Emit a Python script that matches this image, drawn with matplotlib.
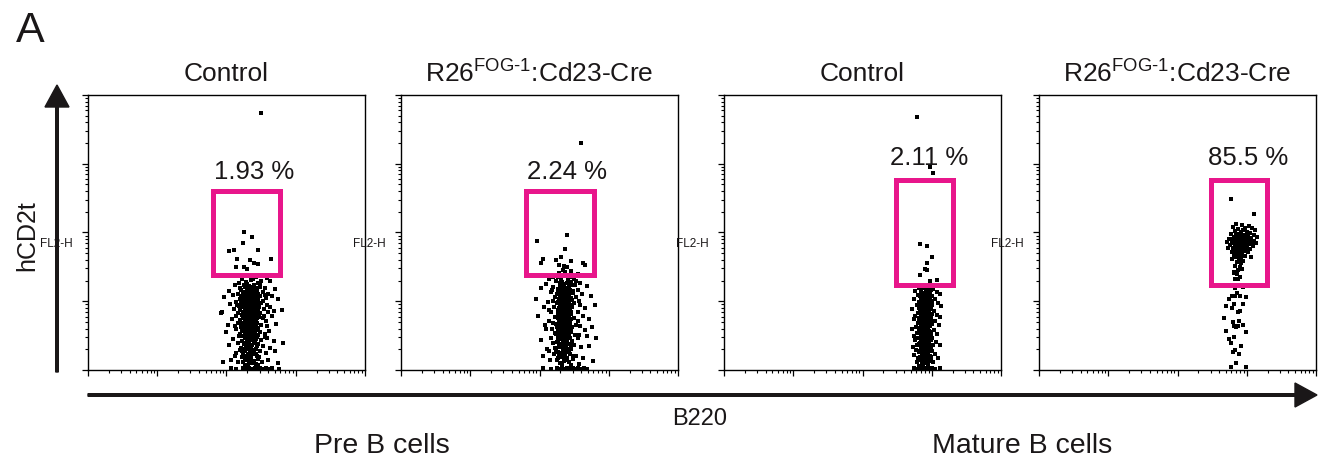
import matplotlib.pyplot as plt
import numpy as np
from matplotlib.patches import Rectangle
from matplotlib.ticker import NullFormatter

plt.rcParams['font.family'] = ['Liberation Sans', 'DejaVu Sans']
plt.rcParams['mathtext.fontset'] = 'custom'
plt.rcParams['mathtext.rm'] = 'Liberation Sans'

# events, in decades (log10 of FL1 / FL2)
pre_ctrl_pts = [
    (2.31,1.38),(2.42,1.36),(2.22,1.33),(2.36,1.31),(2.50,1.30),(2.58,1.34),(2.28,1.28),(2.45,1.27),(2.63,1.29),(2.18,1.26),
    (2.12,1.24),(2.25,1.23),(2.33,1.22),(2.40,1.24),(2.48,1.21),(2.55,1.20),(2.30,1.19),(2.37,1.18),(2.21,1.17),(2.44,1.16),
    (2.70,1.18),(2.03,1.15),(2.29,1.14),(2.35,1.13),(2.41,1.12),(2.52,1.14),(2.60,1.11),(2.17,1.11),(2.26,1.10),(2.33,1.10),
    (2.09,1.09),(2.22,1.08),(2.30,1.07),(2.36,1.08),(2.43,1.06),(2.49,1.07),(2.57,1.05),(2.66,1.08),(2.27,1.04),(2.34,1.03),
    (2.39,1.05),(2.19,1.03),(2.46,1.02),(2.31,1.01),(2.24,1.00),(2.37,1.00),(2.53,1.01),(1.97,1.06),(2.75,1.03),(2.28,1.06),
    (2.14,0.99),(2.21,0.97),(2.29,0.98),(2.33,0.96),(2.38,0.97),(2.42,0.95),(2.50,0.98),(2.26,0.94),(2.35,0.93),(2.31,0.92),
    (2.40,0.91),(2.47,0.92),(2.18,0.93),(2.58,0.95),(2.63,0.91),(2.27,0.90),(2.34,0.90),(2.05,0.96),(2.23,0.91),(2.37,0.94),
    (2.11,0.89),(2.20,0.88),(2.28,0.87),(2.32,0.86),(2.36,0.88),(2.41,0.85),(2.45,0.87),(2.54,0.89),(2.25,0.84),(2.30,0.83),
    (2.38,0.82),(2.43,0.81),(2.16,0.83),(2.60,0.84),(2.69,0.86),(1.93,0.85),(2.34,0.80),(2.27,0.81),(2.49,0.83),(2.22,0.80),
    (2.13,0.79),(2.24,0.78),(2.31,0.77),(2.36,0.78),(2.40,0.76),(2.47,0.77),(2.29,0.75),(2.33,0.74),(2.20,0.73),(2.43,0.73),
    (2.52,0.75),(2.57,0.71),(2.27,0.72),(2.35,0.71),(2.08,0.74),(2.65,0.78),(2.39,0.70),(2.31,0.70),
    (2.17,0.69),(2.25,0.68),(2.32,0.67),(2.37,0.66),(2.44,0.68),(2.50,0.65),(2.28,0.64),(2.34,0.63),(2.21,0.62),(2.41,0.62),
    (2.58,0.64),(2.02,0.66),(2.30,0.61),(2.71,0.67),(2.26,0.60),
    (2.14,0.59),(2.23,0.58),(2.30,0.57),(2.35,0.56),(2.42,0.58),(2.48,0.55),(2.27,0.54),(2.33,0.53),(2.39,0.52),(2.19,0.52),
    (2.55,0.53),(2.62,0.57),(1.99,0.55),(2.31,0.50),(2.45,0.51),
    (2.18,0.49),(2.26,0.48),(2.33,0.47),(2.38,0.46),(2.44,0.48),(2.29,0.44),(2.36,0.43),(2.22,0.42),(2.50,0.44),(2.59,0.46),
    (2.10,0.45),(2.32,0.41),(2.41,0.40),(2.68,0.42),
    (2.16,0.39),(2.25,0.38),(2.31,0.37),(2.37,0.36),(2.46,0.38),(2.28,0.34),(2.35,0.33),(2.21,0.32),(2.42,0.31),(2.53,0.35),
    (2.04,0.36),(2.63,0.32),(2.30,0.30),
    (2.19,0.29),(2.27,0.28),(2.34,0.27),(2.40,0.26),(2.49,0.28),(2.31,0.24),(2.37,0.23),(2.24,0.22),(2.57,0.25),(2.12,0.21),
    (2.44,0.21),(2.70,0.27),
    (2.22,0.19),(2.30,0.18),(2.36,0.17),(2.45,0.16),(2.28,0.14),(2.39,0.13),(2.17,0.12),(2.51,0.12),(2.33,0.11),(2.60,0.15),
    (2.42,0.09),(2.26,0.08),(2.74,0.10),(2.07,0.14),
    (2.06,0.03),(2.13,0.02),(2.24,0.03),(2.28,0.02),(2.32,0.03),(2.38,0.02),(2.41,0.03),(2.45,0.02),(2.49,0.03),(2.53,0.02),
    (2.57,0.03),(2.61,0.02),(2.66,0.03),(2.76,0.02),(1.92,0.83),(1.95,0.12),(2.80,0.88),(2.82,0.40),
    (2.26,1.21),(2.32,1.20),(2.38,1.21),(2.43,1.19),(2.29,1.16),(2.35,1.16),(2.40,1.15),(2.24,1.13),(2.31,1.12),(2.38,1.12),
    (2.46,1.10),(2.28,1.09),(2.34,1.08),(2.40,1.09),(2.21,1.06),(2.33,1.05),(2.36,1.04),(2.42,1.03),(2.29,1.02),(2.27,0.99),
    (2.34,0.98),(2.40,0.99),(2.45,0.97),(2.30,0.96),(2.36,0.95),(2.25,0.97),(2.28,0.93),(2.33,0.92),(2.39,0.93),(2.44,0.90),
    (2.30,0.89),(2.36,0.86),(2.41,0.88),(2.26,0.86),(2.34,0.84),(2.39,0.85),(2.29,0.82),(2.45,0.84),(2.32,0.80),(2.37,0.81),
    (2.24,0.81),(2.42,0.79),(2.28,0.78),(2.34,0.77),(2.38,0.75),(2.30,0.74),(2.25,0.75),(2.44,0.75),(2.35,0.73),(2.40,0.72),
    (2.27,0.70),(2.33,0.69),(2.38,0.68),(2.23,0.67),(2.30,0.66),(2.42,0.65),(2.35,0.64),(2.27,0.62),(2.38,0.60),(2.32,0.59),
    (2.45,0.61),(2.25,0.57),(2.37,0.55),(2.29,0.53),(2.41,0.54),(2.34,0.51),(2.23,0.50),(2.39,0.49),(2.31,0.47),(2.28,0.46),
    (2.42,0.45),(2.35,0.45),(2.26,0.40),(2.33,0.39),(2.39,0.41),(2.30,0.36),(2.44,0.35),(2.36,0.34),(2.27,0.31),(2.33,0.31),
    (2.40,0.29),(2.22,0.27),(2.36,0.25),(2.30,0.21),(2.42,0.24),(2.27,0.17),(2.34,0.15),(2.47,0.19),(2.24,0.11),(2.37,0.10),
    (2.31,0.06),(2.45,0.07),(2.14,0.25),(2.55,0.48),(2.12,0.64),(2.54,0.79),(2.15,0.94),(2.56,1.09),(2.19,1.19),(2.48,1.26),
    (2.38,1.32),(2.30,1.25),
    (2.25,2.01),(2.37,1.93),(2.24,1.85),(2.04,1.73),(2.11,1.75),(2.45,1.75),(2.15,1.61),(2.34,1.60),(2.64,1.61),(2.40,1.56),
    (2.45,1.54),(2.14,1.50),(2.25,1.50),(2.30,1.47),(2.50,3.74),
]

pre_fog_pts = [
    (2.34,1.46),(2.45,1.44),(2.28,1.41),(2.55,1.40),(2.38,1.38),(2.20,1.36),(2.47,1.35),(2.62,1.37),(2.31,1.33),(2.41,1.31),
    (2.14,1.32),(2.53,1.30),
    (2.24,1.29),(2.33,1.28),(2.39,1.27),(2.46,1.28),(2.58,1.26),(2.10,1.25),(2.29,1.24),(2.36,1.23),(2.43,1.22),(2.51,1.24),
    (2.68,1.22),(2.19,1.21),(2.32,1.19),(2.38,1.18),(2.27,1.17),(2.44,1.16),(2.02,1.19),(2.56,1.17),(2.35,1.15),
    (2.16,1.14),(2.26,1.13),(2.33,1.12),(2.37,1.13),(2.42,1.11),(2.49,1.12),(2.61,1.10),(2.30,1.09),(2.35,1.08),(2.39,1.07),
    (2.23,1.06),(2.45,1.05),(2.31,1.04),(2.36,1.03),(2.53,1.06),(2.74,1.08),(1.95,1.04),(2.28,1.02),(2.41,1.01),(2.19,1.00),
    (2.34,1.00),
    (2.12,0.99),(2.25,0.98),(2.32,0.97),(2.37,0.98),(2.43,0.96),(2.50,0.97),(2.29,0.95),(2.35,0.94),(2.40,0.93),(2.21,0.92),
    (2.47,0.91),(2.58,0.94),(2.66,0.90),(2.33,0.90),(2.38,0.89),(2.27,0.88),(2.07,0.92),(2.44,0.87),(2.31,0.86),(2.80,0.95),
    (2.17,0.84),(2.26,0.83),(2.34,0.82),(2.39,0.83),(2.46,0.81),(2.55,0.84),(2.30,0.80),(2.36,0.79),(2.41,0.78),(2.23,0.77),
    (2.50,0.76),(2.63,0.79),(2.32,0.75),(2.37,0.74),(1.98,0.78),(2.28,0.73),(2.44,0.72),(2.71,0.74),(2.14,0.71),(2.35,0.70),
    (2.20,0.69),(2.29,0.68),(2.36,0.67),(2.42,0.68),(2.52,0.66),(2.33,0.65),(2.38,0.64),(2.25,0.63),(2.47,0.62),(2.59,0.64),
    (2.08,0.65),(2.31,0.61),(2.40,0.60),(2.76,0.62),(2.18,0.59),(2.34,0.57),(2.45,0.56),(2.65,0.58),
    (2.22,0.54),(2.30,0.53),(2.37,0.52),(2.43,0.53),(2.51,0.51),(2.27,0.50),(2.35,0.49),(2.41,0.48),(2.16,0.47),(2.56,0.46),
    (2.32,0.45),(2.69,0.49),(2.02,0.44),(2.39,0.43),(2.47,0.42),(2.25,0.41),(2.82,0.47),
    (2.19,0.39),(2.28,0.38),(2.35,0.37),(2.42,0.38),(2.50,0.36),(2.31,0.35),(2.38,0.34),(2.23,0.32),(2.46,0.31),(2.60,0.33),
    (2.11,0.30),(2.34,0.29),(2.72,0.35),(2.41,0.27),(2.27,0.26),
    (2.21,0.24),(2.30,0.23),(2.37,0.22),(2.44,0.23),(2.53,0.21),(2.33,0.19),(2.40,0.18),(2.26,0.17),(2.48,0.16),(2.63,0.18),
    (2.15,0.14),(2.36,0.13),(2.43,0.11),(2.29,0.10),(2.57,0.09),(2.77,0.13),(2.05,0.20),
    (2.05,0.03),(2.16,0.02),(2.25,0.03),(2.29,0.02),(2.33,0.03),(2.36,0.02),(2.40,0.03),(2.44,0.02),(2.48,0.03),(2.52,0.02),
    (2.56,0.03),(2.60,0.02),(2.64,0.03),(2.68,0.02),
    (2.30,1.26),(2.36,1.25),(2.42,1.26),(2.47,1.23),(2.31,1.21),(2.37,1.20),(2.41,1.19),(2.26,1.18),(2.34,1.17),(2.40,1.16),
    (2.48,1.15),(2.30,1.14),(2.36,1.11),(2.44,1.13),(2.25,1.10),(2.33,1.09),(2.38,1.10),(2.43,1.08),(2.31,1.06),(2.28,1.03),
    (2.37,1.05),(2.42,1.03),(2.47,1.02),(2.33,1.01),(2.38,1.00),(2.26,0.99),(2.30,0.98),(2.35,0.96),(2.41,0.98),(2.45,0.94),
    (2.32,0.93),(2.37,0.92),(2.42,0.91),(2.28,0.90),(2.35,0.87),(2.40,0.86),(2.31,0.84),(2.46,0.85),(2.33,0.83),(2.38,0.81),
    (2.27,0.81),(2.43,0.80),(2.30,0.78),(2.35,0.77),(2.39,0.76),(2.32,0.73),(2.26,0.75),(2.45,0.74),(2.36,0.72),(2.41,0.71),
    (2.29,0.70),(2.34,0.69),(2.39,0.70),(2.24,0.67),(2.31,0.66),(2.44,0.66),(2.36,0.63),(2.28,0.62),(2.39,0.62),(2.33,0.60),
    (2.46,0.60),(2.26,0.58),(2.38,0.57),(2.30,0.55),(2.42,0.55),(2.35,0.54),(2.24,0.52),(2.40,0.50),(2.32,0.48),(2.29,0.47),
    (2.44,0.46),(2.36,0.46),(2.27,0.43),(2.34,0.41),(2.40,0.40),(2.31,0.38),(2.45,0.36),(2.37,0.35),(2.28,0.33),(2.34,0.32),
    (2.41,0.30),(2.24,0.29),(2.37,0.27),(2.31,0.25),(2.43,0.26),(2.28,0.20),(2.35,0.20),(2.48,0.21),(2.25,0.14),(2.38,0.15),
    (2.32,0.07),(2.46,0.08),(2.13,0.27),(2.57,0.51),(2.10,0.60),(2.56,0.72),(2.13,0.88),(2.57,1.01),(2.18,1.16),(2.50,1.33),
    (2.37,1.42),(2.26,1.35),
    (1.96,1.88),(2.40,1.97),(2.37,1.76),(2.31,1.64),(2.05,1.61),(2.02,1.56),(2.24,1.60),(2.28,1.53),(2.36,1.52),(2.40,1.50),
    (2.63,1.56),(2.66,1.53),(2.46,1.58),(2.60,3.30),
]

mat_ctrl_pts = [
    (2.88,1.22),(2.95,1.21),(2.82,1.19),(3.02,1.18),(2.91,1.17),(2.76,1.15),(2.97,1.14),(3.08,1.13),(2.86,1.12),(2.93,1.11),
    (2.80,1.09),(3.00,1.08),(2.89,1.07),(2.95,1.06),(3.12,1.10),(2.84,1.05),
    (2.74,1.04),(2.90,1.03),(2.97,1.02),(3.04,1.03),(2.86,1.01),(2.93,1.00),(2.81,0.99),(3.00,0.98),(2.88,0.97),(2.95,0.96),
    (3.09,0.97),(2.78,0.95),(2.91,0.94),(2.84,0.93),(2.98,0.92),(3.14,0.93),(2.89,0.91),(2.94,0.90),
    (2.72,0.89),(2.83,0.88),(2.90,0.87),(2.96,0.88),(3.03,0.86),(2.87,0.85),(2.93,0.84),(2.80,0.83),(3.00,0.82),(2.91,0.81),
    (2.85,0.80),(2.97,0.79),(3.07,0.80),(2.76,0.78),(2.89,0.77),(2.94,0.76),(3.12,0.77),(2.82,0.75),
    (2.74,0.74),(2.86,0.73),(2.92,0.72),(2.99,0.73),(3.05,0.71),(2.89,0.70),(2.95,0.69),(2.80,0.68),(3.01,0.67),(2.91,0.66),
    (2.84,0.65),(2.97,0.64),(3.10,0.66),(2.77,0.63),(2.88,0.62),(2.93,0.61),(2.71,0.60),
    (2.82,0.59),(2.90,0.58),(2.96,0.57),(3.03,0.58),(2.86,0.56),(2.92,0.55),(2.78,0.54),(2.99,0.53),(2.88,0.52),(2.94,0.51),
    (3.08,0.52),(2.74,0.50),(2.84,0.49),(2.91,0.48),(3.01,0.47),(2.80,0.46),(2.96,0.45),
    (2.76,0.44),(2.87,0.43),(2.93,0.42),(2.99,0.43),(3.06,0.41),(2.83,0.40),(2.90,0.39),(2.96,0.38),(2.79,0.37),(3.02,0.36),
    (2.88,0.35),(2.94,0.34),(3.12,0.36),(2.73,0.33),(2.85,0.32),(2.91,0.31),(2.98,0.30),
    (2.77,0.29),(2.86,0.28),(2.92,0.27),(3.00,0.28),(2.82,0.26),(2.89,0.25),(2.95,0.24),(3.05,0.23),(2.74,0.22),(2.87,0.21),
    (2.93,0.20),(2.99,0.19),(2.80,0.18),(3.09,0.17),(2.90,0.16),(2.84,0.14),(2.96,0.13),(2.78,0.12),(3.02,0.11),(2.91,0.10),
    (2.74,0.03),(2.79,0.02),(2.83,0.03),(2.86,0.02),(2.89,0.03),(2.92,0.02),(2.95,0.03),(2.98,0.02),(3.01,0.03),(3.05,0.02),
    (3.12,0.03),
    (2.87,1.20),(2.93,1.19),(2.99,1.16),(2.85,1.15),(2.91,1.14),(2.96,1.12),(2.88,1.10),(2.94,1.09),(2.83,1.08),(2.91,1.05),
    (2.97,1.05),(2.87,1.03),(2.93,1.02),(2.99,1.00),(2.84,0.98),(2.90,0.98),(2.96,0.97),(2.86,0.95),(2.92,0.93),(3.01,0.94),
    (2.88,0.92),(2.95,0.91),(2.82,0.90),(2.91,0.89),(2.99,0.89),(2.86,0.87),(2.93,0.86),(2.89,0.84),(2.96,0.83),(2.84,0.82),
    (2.92,0.80),(2.88,0.79),(2.99,0.78),(2.85,0.77),(2.91,0.75),(2.96,0.74),(2.82,0.72),(2.89,0.72),(2.94,0.70),(2.86,0.69),
    (2.91,0.68),(2.98,0.66),(2.84,0.66),(2.89,0.64),(2.95,0.63),(2.82,0.61),(2.91,0.60),(2.87,0.58),(2.94,0.59),(2.99,0.55),
    (2.84,0.54),(2.90,0.53),(2.96,0.52),(2.86,0.50),(2.93,0.49),(2.81,0.47),(2.88,0.46),(2.98,0.44),(2.85,0.41),(2.91,0.41),
    (2.95,0.40),(2.82,0.38),(2.88,0.37),(2.93,0.36),(2.99,0.33),(2.86,0.33),(2.91,0.29),(2.96,0.28),(2.83,0.28),(2.89,0.27),
    (2.94,0.25),(2.86,0.23),(2.91,0.22),(2.97,0.21),(2.83,0.19),(2.88,0.18),(2.94,0.17),(2.86,0.12),(2.91,0.13),(2.99,0.14),
    (2.88,0.07),(2.95,0.08),(2.82,0.06),
    (2.83,1.83),(2.93,1.80),(3.00,1.64),(2.93,1.56),(2.90,1.47),(2.93,1.45),(2.83,1.38),(3.07,1.31),(2.97,1.29),
    (2.97,2.95),(3.02,2.87),(2.79,3.68),
]

mat_fog_pts = [
    (2.85,2.13),(2.93,2.11),(3.03,2.10),(2.80,2.08),(2.98,2.07),(3.08,2.06),(2.88,2.05),(2.95,2.04),(3.12,2.03),(2.83,2.02),
    (2.91,2.01),(3.00,2.00),(3.05,1.99),(2.77,1.98),(2.87,1.98),(2.94,1.97),(3.10,1.97),(2.84,1.96),(2.97,1.95),(3.02,1.94),
    (2.90,1.94),(3.15,1.93),(2.81,1.93),(2.93,1.92),(3.06,1.92),(2.86,1.91),(2.99,1.90),(2.74,1.90),(2.89,1.89),(2.95,1.89),
    (3.03,1.88),(3.11,1.88),(2.82,1.88),(2.92,1.87),(2.86,1.86),(2.97,1.86),(3.07,1.86),(2.71,1.86),(2.90,1.85),(3.01,1.85),
    (2.79,1.85),(2.94,1.84),(2.84,1.83),(3.04,1.83),(3.13,1.84),(2.88,1.82),(2.98,1.82),(2.76,1.82),(2.92,1.81),(2.83,1.80),
    (3.01,1.80),(2.95,1.79),(3.09,1.80),(2.87,1.79),(2.80,1.78),(2.91,1.77),(2.99,1.77),(2.73,1.77),(2.85,1.76),(3.05,1.76),
    (2.94,1.75),(2.89,1.74),(2.82,1.73),(2.97,1.73),(2.78,1.72),(2.91,1.71),(3.02,1.71),(2.86,1.70),(2.93,1.69),(2.81,1.68),
    (2.88,1.66),(2.97,1.66),(2.84,1.64),(2.92,1.63),(3.06,1.64),(2.79,1.62),(2.89,1.60),(2.95,1.59),(2.86,1.57),(2.92,1.55),
    (2.83,1.52),(2.90,1.50),(2.87,1.45),(2.82,1.42),(2.93,1.47),
    (2.90,1.90),(2.93,1.95),(2.87,1.93),(2.96,1.91),(2.91,1.83),(2.88,1.86),(2.95,1.87),(2.99,1.94),(2.85,1.89),(2.93,1.78),
    (3.01,1.97),(2.89,1.97),(2.83,1.85),(2.97,1.80),(2.92,1.99),(3.04,1.90),(2.80,1.91),(2.86,1.81),(2.94,1.92),(2.90,1.80),
    (2.77,2.49),(3.10,2.27),
    (2.82,1.41),(2.86,1.40),(2.90,1.35),(2.83,1.32),(2.87,1.32),
    (2.83,1.19),(2.95,1.21),(2.86,1.12),(2.79,1.08),(2.83,1.07),(2.90,1.07),(2.74,1.03),(2.99,1.06),(2.82,0.96),(2.95,0.96),
    (2.70,0.93),(2.79,0.90),(2.90,0.86),(2.88,0.84),(2.67,0.76),(2.80,0.70),(2.89,0.71),(2.95,0.65),(2.81,0.64),(2.84,0.62),
    (2.87,0.64),(2.70,0.57),(2.99,0.55),(2.82,0.48),(2.74,0.45),(2.77,0.39),(2.92,0.35),(2.83,0.29),(2.80,0.26),(2.89,0.24),
    (2.84,0.10),(2.77,0.04),(2.99,0.04),
]

titles = ['Control', r'R26$^{\text{FOG-1}}$:Cd23-Cre', 'Control', r'R26$^{\text{FOG-1}}$:Cd23-Cre']
percents = ['1.93 %', '2.24 %', '2.11 %', '85.5 %']
# label anchor (decades) and gate (x0, x1, y0, y1 in decades)
pct_pos = [(2.40, 2.78), (2.40, 2.78), (2.96, 2.98), (3.02, 2.98)]
gates = [(1.81, 2.77, 1.38, 2.60), (1.81, 2.78, 1.38, 2.60),
         (2.49, 3.30, 1.24, 2.77), (2.48, 3.29, 1.24, 2.77)]
panels = [pre_ctrl_pts, pre_fog_pts, mat_ctrl_pts, mat_fog_pts]

W, H = 1319, 465
fig = plt.figure(figsize=(W / 100, H / 100), dpi=100)

# overlay in pixel units for arrows and figure labels
ov = fig.add_axes([0, 0, 1, 1])
ov.set_xlim(0, W)
ov.set_ylim(H, 0)
ov.axis('off')
ink = '#1a1718'
ov.arrow(57, 372, 0, -287, width=2.6, head_width=24, head_length=22,
         length_includes_head=True, color=ink)
ov.arrow(88, 395, 1229, 0, width=2.6, head_width=24, head_length=22,
         length_includes_head=True, color=ink)
ov.text(16, 42, 'A', fontsize=31, color=ink, va='baseline')
ov.text(27, 236, 'hCD2t', fontsize=18, rotation=90, ha='center', va='center', color=ink)
ov.text(700, 419, 'B220', fontsize=17, ha='center', va='center', color=ink)
ov.text(382, 446, 'Pre B cells', fontsize=20.5, ha='center', va='center', color=ink)
ov.text(1022, 446, 'Mature B cells', fontsize=20.5, ha='center', va='center', color=ink)

lefts = [88, 401, 724, 1039]
for i, left in enumerate(lefts):
    ax = fig.add_axes([left / W, (H - 370) / H, 277 / W, 275 / H])
    pts = np.array(panels[i])
    ax.scatter(10 ** pts[:, 0], 10 ** pts[:, 1], s=5, marker='s', c='black', linewidths=0)
    ax.set_xscale('log')
    ax.set_yscale('log')
    ax.set_xlim(1, 1e4)
    ax.set_ylim(1, 1e4)
    for axis in (ax.xaxis, ax.yaxis):
        axis.set_major_formatter(NullFormatter())
        axis.set_minor_formatter(NullFormatter())
    ax.tick_params(which='major', direction='out', length=4.5, width=0.9)
    ax.tick_params(which='minor', direction='out', length=2.3, width=0.8)
    for sp in ax.spines.values():
        sp.set_linewidth(1.0)

    x0, x1, y0, y1 = gates[i]
    ax.add_patch(Rectangle((10 ** x0, 10 ** y0), 10 ** x1 - 10 ** x0, 10 ** y1 - 10 ** y0,
                           fill=False, edgecolor='#e8168b', linewidth=3.6, zorder=3))
    px, py = pct_pos[i]
    ax.text(10 ** px, 10 ** py, percents[i], ha='center', va='baseline', fontsize=18.5, color=ink)
    ax.set_title(titles[i], fontsize=19, pad=10, color=ink)
    ax.annotate('FL2-H', xy=(0, 100), xycoords=('axes fraction', 'data'),
                xytext=(-10.8, -8), textcoords='offset points',
                ha='right', va='center', fontsize=8.5, color=ink)

fig.savefig('out.png', dpi=100)
